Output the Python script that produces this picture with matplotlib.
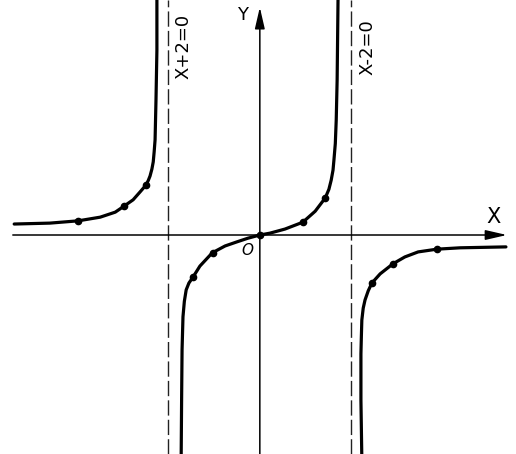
"""Sketch of y = x / (4 - x^2) with its two vertical asymptotes, textbook style."""
import matplotlib

matplotlib.use("Agg")
import matplotlib.pyplot as plt  # noqa: E402

# curve points (math units, x-axis at y=0)
left_x = [-5.37, -4.59, -3.97, -3.49, -3.16, -2.97, -2.77, -2.62, -2.49, -2.44,
          -2.40, -2.36, -2.33, -2.31, -2.29, -2.27, -2.25, -2.25]
left_y = [0.24, 0.26, 0.31, 0.39, 0.50, 0.63, 0.77, 0.94, 1.09, 1.19,
          1.29, 1.44, 1.60, 1.82, 2.08, 2.95, 4.04, 5.20]

mid_x = [-1.72, -1.71, -1.70, -1.68, -1.65, -1.61, -1.55, -1.46, -1.31, -1.04,
         -0.76, -0.50, -0.26, 0.0, 0.22, 0.55, 0.94, 1.21, 1.43, 1.51, 1.56,
         1.60, 1.62, 1.65, 1.67, 1.69, 1.71]
mid_y = [-4.90, -3.61, -2.51, -1.79, -1.45, -1.20, -1.05, -0.92, -0.68, -0.39,
         -0.24, -0.15, -0.07, 0.0, 0.04, 0.13, 0.28, 0.52, 0.81, 1.00, 1.20,
         1.42, 1.64, 2.00, 2.51, 3.39, 5.20]

right_x = [2.23, 2.21, 2.21, 2.22, 2.23, 2.26, 2.30, 2.37, 2.45, 2.63, 2.91,
           3.17, 3.46, 3.87, 4.38, 5.38]
right_y = [-4.90, -3.61, -2.60, -2.20, -1.86, -1.60, -1.42, -1.22, -1.05, -0.85,
           -0.63, -0.48, -0.37, -0.31, -0.28, -0.26]

# plotted points (dots on the curve)
dot_x = [-3.97, -2.97, -2.49, -1.46, -1.02, 0.0, 0.94, 1.43, 2.45, 2.91, 3.87]
dot_y = [0.31, 0.63, 1.09, -0.92, -0.39, 0.0, 0.28, 0.81, -1.05, -0.63, -0.31]

asymptotes = [-2.0, 2.0]
asym_labels = ["X+2=0", "X-2=0"]

fig = plt.figure(figsize=(5.16, 4.54), dpi=100)
ax = fig.add_axes([0, 0, 1, 1])
ax.set_xlim(-5.68, 5.60)
ax.set_ylim(-4.79, 5.14)
ax.axis("off")

arrow = dict(arrowstyle="-|>,head_length=1.3,head_width=0.3", color="black",
             lw=1.1, mutation_scale=10, shrinkA=0, shrinkB=0)
ax.annotate("", xy=(5.40, 0), xytext=(-5.40, 0), arrowprops=arrow)
ax.annotate("", xy=(0, 4.98), xytext=(0, -4.9), arrowprops=arrow)

for xa in asymptotes:
    ax.axvline(xa, color="#222222", lw=1.0, dashes=(11, 3))

for xs, ys in [(left_x, left_y), (mid_x, mid_y), (right_x, right_y)]:
    ax.plot(xs, ys, color="black", lw=2.3, solid_joinstyle="round",
            solid_capstyle="round")
ax.plot(dot_x, dot_y, "o", color="black", ms=4.5)

ax.text(-1.68, 4.13, asym_labels[0], rotation=90, ha="center", va="center", fontsize=13)
ax.text(2.36, 4.11, asym_labels[1], rotation=90, ha="center", va="center", fontsize=13)
ax.text(-0.37, 4.81, "Y", ha="center", va="center", fontsize=13)
ax.text(5.10, 0.40, "X", ha="center", va="center", fontsize=15)
ax.text(-0.27, -0.33, "O", ha="center", va="center", fontsize=11, style="italic")

fig.savefig("out.png", dpi=100, facecolor="white")
